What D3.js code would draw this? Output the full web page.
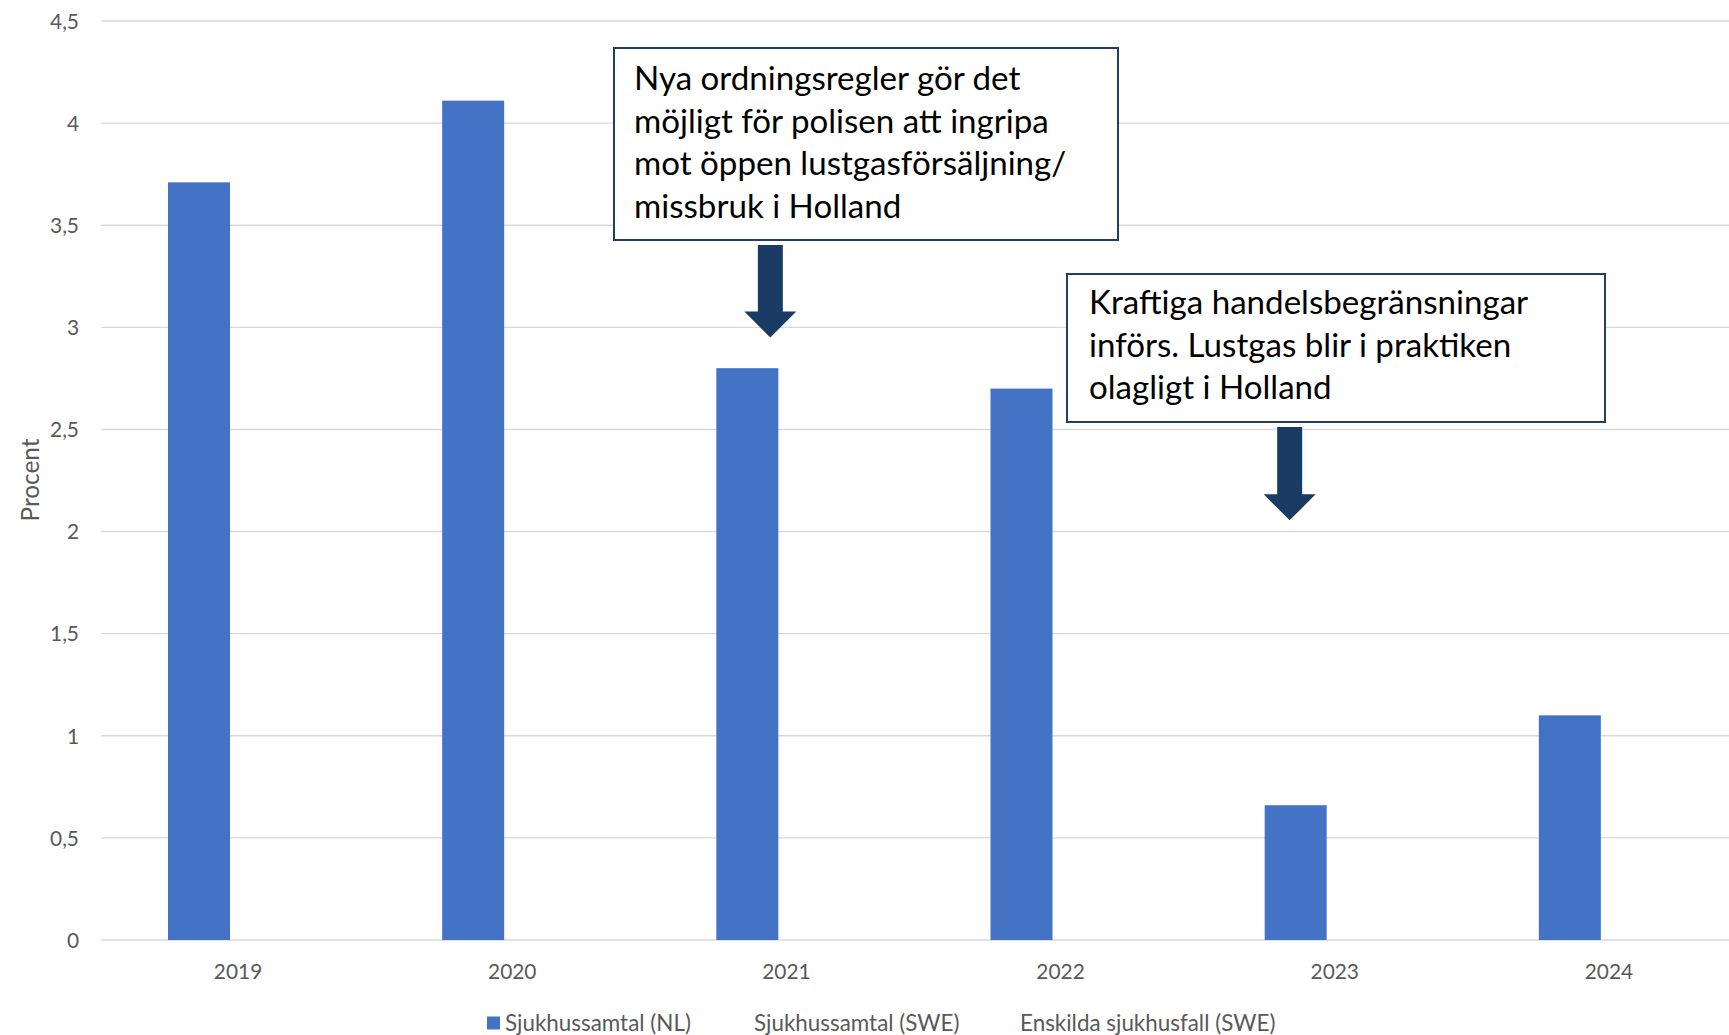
<!DOCTYPE html>
<html>
<head>
<meta charset="utf-8">
<script src="https://cdn.jsdelivr.net/npm/d3@7"></script>
<style>
  html, body { margin: 0; padding: 0; background: #ffffff; }
  svg { display: block; }
</style>
</head>
<body>
<svg id="chart" width="1729" height="1035"></svg>
<script>
// ---------- DATA ----------
const years = ["2019", "2020", "2021", "2022", "2023", "2024"];
const seriesNames = ["Sjukhussamtal (NL)", "Sjukhussamtal (SWE)", "Enskilda sjukhusfall (SWE)"];
const seriesColors = ["#4472C4", "none", "none"];
const nlValues = [3.71, 4.11, 2.80, 2.70, 0.66, 1.10];
const sweValues = [null, null, null, null, null, null];
const sweCaseValues = [null, null, null, null, null, null];
const yTickValues = [0, 0.5, 1, 1.5, 2, 2.5, 3, 3.5, 4, 4.5];
const yAxisTitle = "Procent";
const annotationTexts = [
  ["Nya ordningsregler gör det", "möjligt för polisen att ingripa", "mot öppen lustgasförsäljning/", "missbruk i Holland"],
  ["Kraftiga handelsbegränsningar", "införs. Lustgas blir i praktiken", "olagligt i Holland"]
];
const annotationYears = ["2021", "2023"];

// ---------- SETUP ----------
const svg = d3.select("#chart");
const FONT = "Lato, 'Open Sans', 'DejaVu Sans', sans-serif";

// Fit a font size so that the given string renders at the target width
const measurer = svg.append("text").attr("font-family", FONT).attr("font-size", 100).attr("opacity", 0);
function fitSize(str, target) {
  measurer.text(str);
  const w = measurer.node().getComputedTextLength();
  return 100 * target / w;
}
const tickSize = fitSize("2019", 48.5);
const legendSize = fitSize("Sjukhussamtal (NL)", 186);
const annSize = fitSize("möjligt för polisen att ingripa", 415);
const titleSize = fitSize("Procent", 83);
measurer.remove();

const locale = d3.formatLocale({ decimal: ",", thousands: " ", grouping: [3], currency: ["", " kr"] });
const fmt = locale.format("~g");

// ---------- SCALES ----------
const plotLeft = 101, plotRight = 1746, plotTop = 21, plotBottom = 940;
const x = d3.scaleBand().domain(years).range([plotLeft, plotRight]).padding(0);
const x1 = d3.scaleBand().domain(seriesNames).range([67, 67 + 62 * 3]).padding(0);
const y = d3.scaleLinear().domain([0, 4.5]).range([plotBottom, plotTop]);

// ---------- GRIDLINES ----------
svg.append("g")
  .selectAll("line")
  .data(yTickValues)
  .join("line")
  .attr("x1", plotLeft).attr("x2", 1729)
  .attr("y1", d => y(d)).attr("y2", d => y(d))
  .attr("stroke", "#D9D9D9").attr("stroke-width", 1.4);

// ---------- Y AXIS ----------
const yAxis = d3.axisLeft(y).tickValues(yTickValues).tickFormat(fmt).tickSize(0).tickPadding(0);
const yg = svg.append("g").attr("transform", "translate(79,0)").call(yAxis);
yg.select(".domain").remove();
yg.selectAll("text")
  .attr("font-family", FONT).attr("font-size", tickSize)
  .attr("fill", "#595959").attr("dy", "0.35em").attr("x", 0);

svg.append("text")
  .attr("transform", "translate(30,480) rotate(-90)")
  .attr("text-anchor", "middle")
  .attr("dy", "0.35em")
  .attr("font-family", FONT).attr("font-size", titleSize)
  .attr("fill", "#595959")
  .text(yAxisTitle);

// ---------- X AXIS ----------
const xAxis = d3.axisBottom(x).tickSize(0).tickPadding(0);
const xg = svg.append("g").attr("transform", "translate(0,972)").call(xAxis);
xg.select(".domain").remove();
xg.selectAll("text")
  .attr("font-family", FONT).attr("font-size", tickSize)
  .attr("fill", "#595959").attr("dy", "0.35em").attr("y", 0);

// ---------- BARS ----------
const allSeries = [nlValues, sweValues, sweCaseValues];
const barData = [];
allSeries.forEach((vals, si) => {
  vals.forEach((v, i) => {
    if (v !== null) barData.push({ year: years[i], series: seriesNames[si], value: v, color: seriesColors[si] });
  });
});
svg.append("g")
  .selectAll("rect")
  .data(barData)
  .join("rect")
  .attr("x", d => x(d.year) + x1(d.series))
  .attr("width", x1.bandwidth())
  .attr("y", d => y(d.value))
  .attr("height", d => y(0) - y(d.value))
  .attr("fill", d => d.color);

// ---------- LEGEND ----------
const legendX = [505, 754, 1020];
const legendY = 1023;
const lg = svg.append("g");
seriesNames.forEach((name, i) => {
  if (seriesColors[i] !== "none") {
    lg.append("rect")
      .attr("x", legendX[i] - 18).attr("y", legendY - 6.5)
      .attr("width", 13).attr("height", 13)
      .attr("fill", seriesColors[i]);
  }
  lg.append("text")
    .attr("x", legendX[i]).attr("y", legendY)
    .attr("dy", "0.35em")
    .attr("font-family", FONT).attr("font-size", legendSize)
    .attr("fill", "#595959")
    .text(name);
});

// ---------- ANNOTATIONS ----------
const annBoxes = [
  { left: 614, top: 48, width: 504, height: 192, textX: 634, firstBaseline: 90, arrowDx: 121, shaftTop: 245, tipValue: 2.95 },
  { left: 1067, top: 274, width: 538, height: 148, textX: 1089, firstBaseline: 314, arrowDx: 92, shaftTop: 427, tipValue: 2.055 }
];
const lineGap = 42.5;
const arrowColor = "#1A3B63";
annBoxes.forEach((b, i) => {
  const g = svg.append("g");
  g.append("rect")
    .attr("x", b.left).attr("y", b.top)
    .attr("width", b.width).attr("height", b.height)
    .attr("fill", "#ffffff").attr("stroke", "#223E66").attr("stroke-width", 2);
  annotationTexts[i].forEach((line, j) => {
    g.append("text")
      .attr("x", b.textX).attr("y", b.firstBaseline + j * lineGap)
      .attr("font-family", FONT).attr("font-size", annSize)
      .attr("fill", "#000000")
      .text(line);
  });
  const cx = x(annotationYears[i]) + b.arrowDx;
  const tip = y(b.tipValue);
  const shaftHalf = 12.5, headHalf = 26, headH = 26;
  const pts = [
    [cx - shaftHalf, b.shaftTop], [cx + shaftHalf, b.shaftTop],
    [cx + shaftHalf, tip - headH], [cx + headHalf, tip - headH],
    [cx, tip], [cx - headHalf, tip - headH], [cx - shaftHalf, tip - headH]
  ];
  g.append("path")
    .attr("d", d3.line()(pts) + "Z")
    .attr("fill", arrowColor);
});
</script>
</body>
</html>
